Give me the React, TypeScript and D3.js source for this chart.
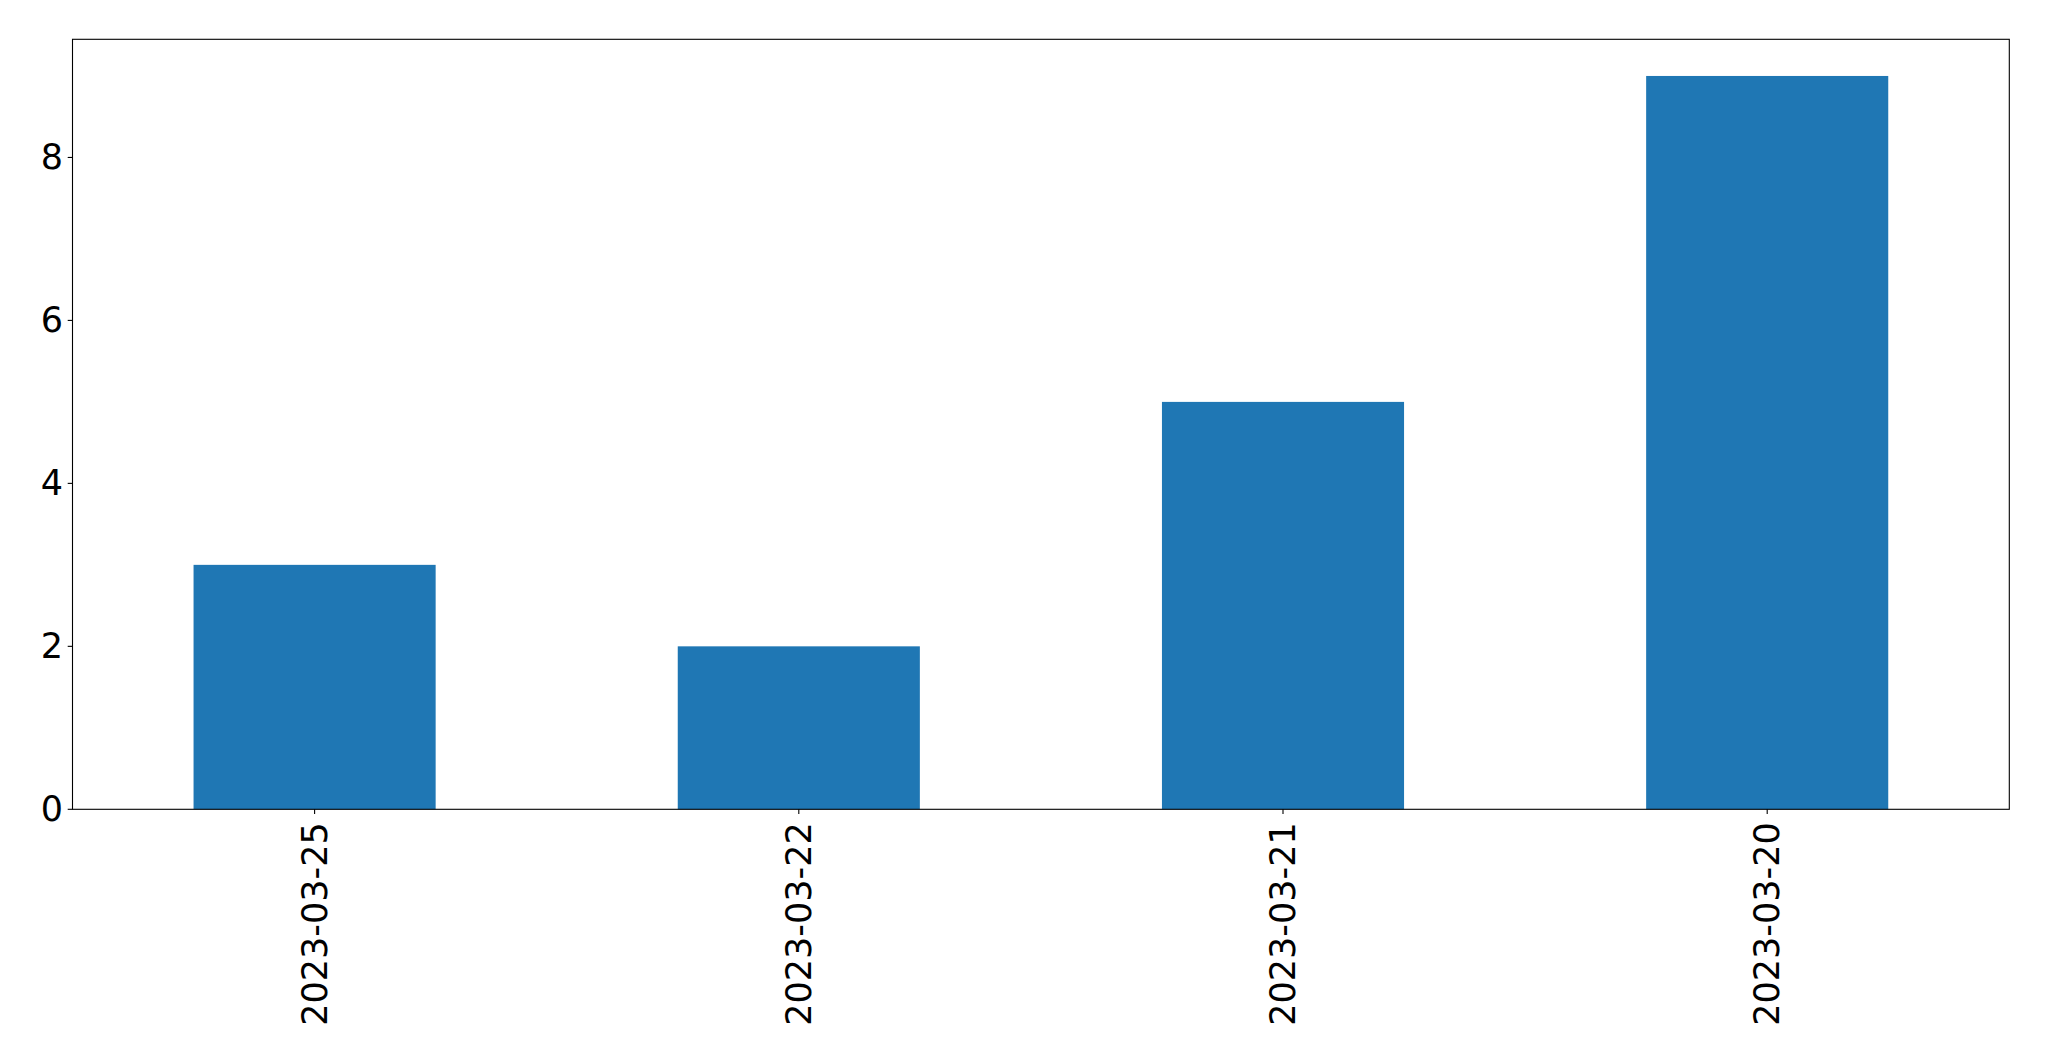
import React, { useEffect, useRef } from "react";
import * as d3 from "d3";

const categories: string[] = ["2023-03-25", "2023-03-22", "2023-03-21", "2023-03-20"];
const values: number[] = [3, 2, 5, 9];
const yTicks: number[] = [0, 2, 4, 6, 8];

const W = 2049;
const H = 1061;
const M = { left: 72.5, right: 2009.3, top: 39.3, bottom: 809.3 };

export default function App() {
  const ref = useRef<SVGSVGElement>(null);
  useEffect(() => {
    const svg = d3.select(ref.current);
    svg.selectAll("*").remove();
    const x = d3.scaleLinear().domain([-0.5, categories.length - 0.5]).range([M.left, M.right]);
    const y = d3.scaleLinear().domain([0, d3.max(values)! * 1.05]).range([M.bottom, M.top]);
    const font = "DejaVu Sans, sans-serif";
    const fs = 35;

    svg.append("g").selectAll("rect").data(values).join("rect")
      .attr("x", (_, i) => x(i - 0.25))
      .attr("width", (_, i) => x(i + 0.25) - x(i - 0.25))
      .attr("y", d => y(d))
      .attr("height", d => y(0) - y(d))
      .attr("fill", "#1f77b4");

    svg.append("rect")
      .attr("x", M.left).attr("y", M.top)
      .attr("width", M.right - M.left).attr("height", M.bottom - M.top)
      .attr("fill", "none").attr("stroke", "black").attr("stroke-width", 1.1);

    const yg = svg.append("g");
    yTicks.forEach(t => {
      yg.append("line").attr("x1", M.left - 4.8).attr("x2", M.left)
        .attr("y1", y(t)).attr("y2", y(t)).attr("stroke", "black").attr("stroke-width", 1.1);
      yg.append("text").attr("x", M.left - 9.5).attr("y", y(t))
        .attr("text-anchor", "end").attr("dominant-baseline", "central")
        .attr("font-family", font).attr("font-size", fs).attr("fill", "black")
        .text(String(t));
    });

    const xg = svg.append("g");
    categories.forEach((c, i) => {
      xg.append("line").attr("x1", x(i)).attr("x2", x(i))
        .attr("y1", M.bottom).attr("y2", M.bottom + 4.8).attr("stroke", "black").attr("stroke-width", 1.1);
      xg.append("text")
        .attr("transform", `translate(${x(i)},${M.bottom + 13}) rotate(-90)`)
        .attr("text-anchor", "end").attr("dominant-baseline", "central")
        .attr("font-family", font).attr("font-size", fs).attr("fill", "black")
        .text(c);
    });
  }, []);
  return (
    <svg ref={ref} width={W} height={H}
      style={{ position: "absolute", left: 0, top: 0, background: "white" }} />
  );
}
